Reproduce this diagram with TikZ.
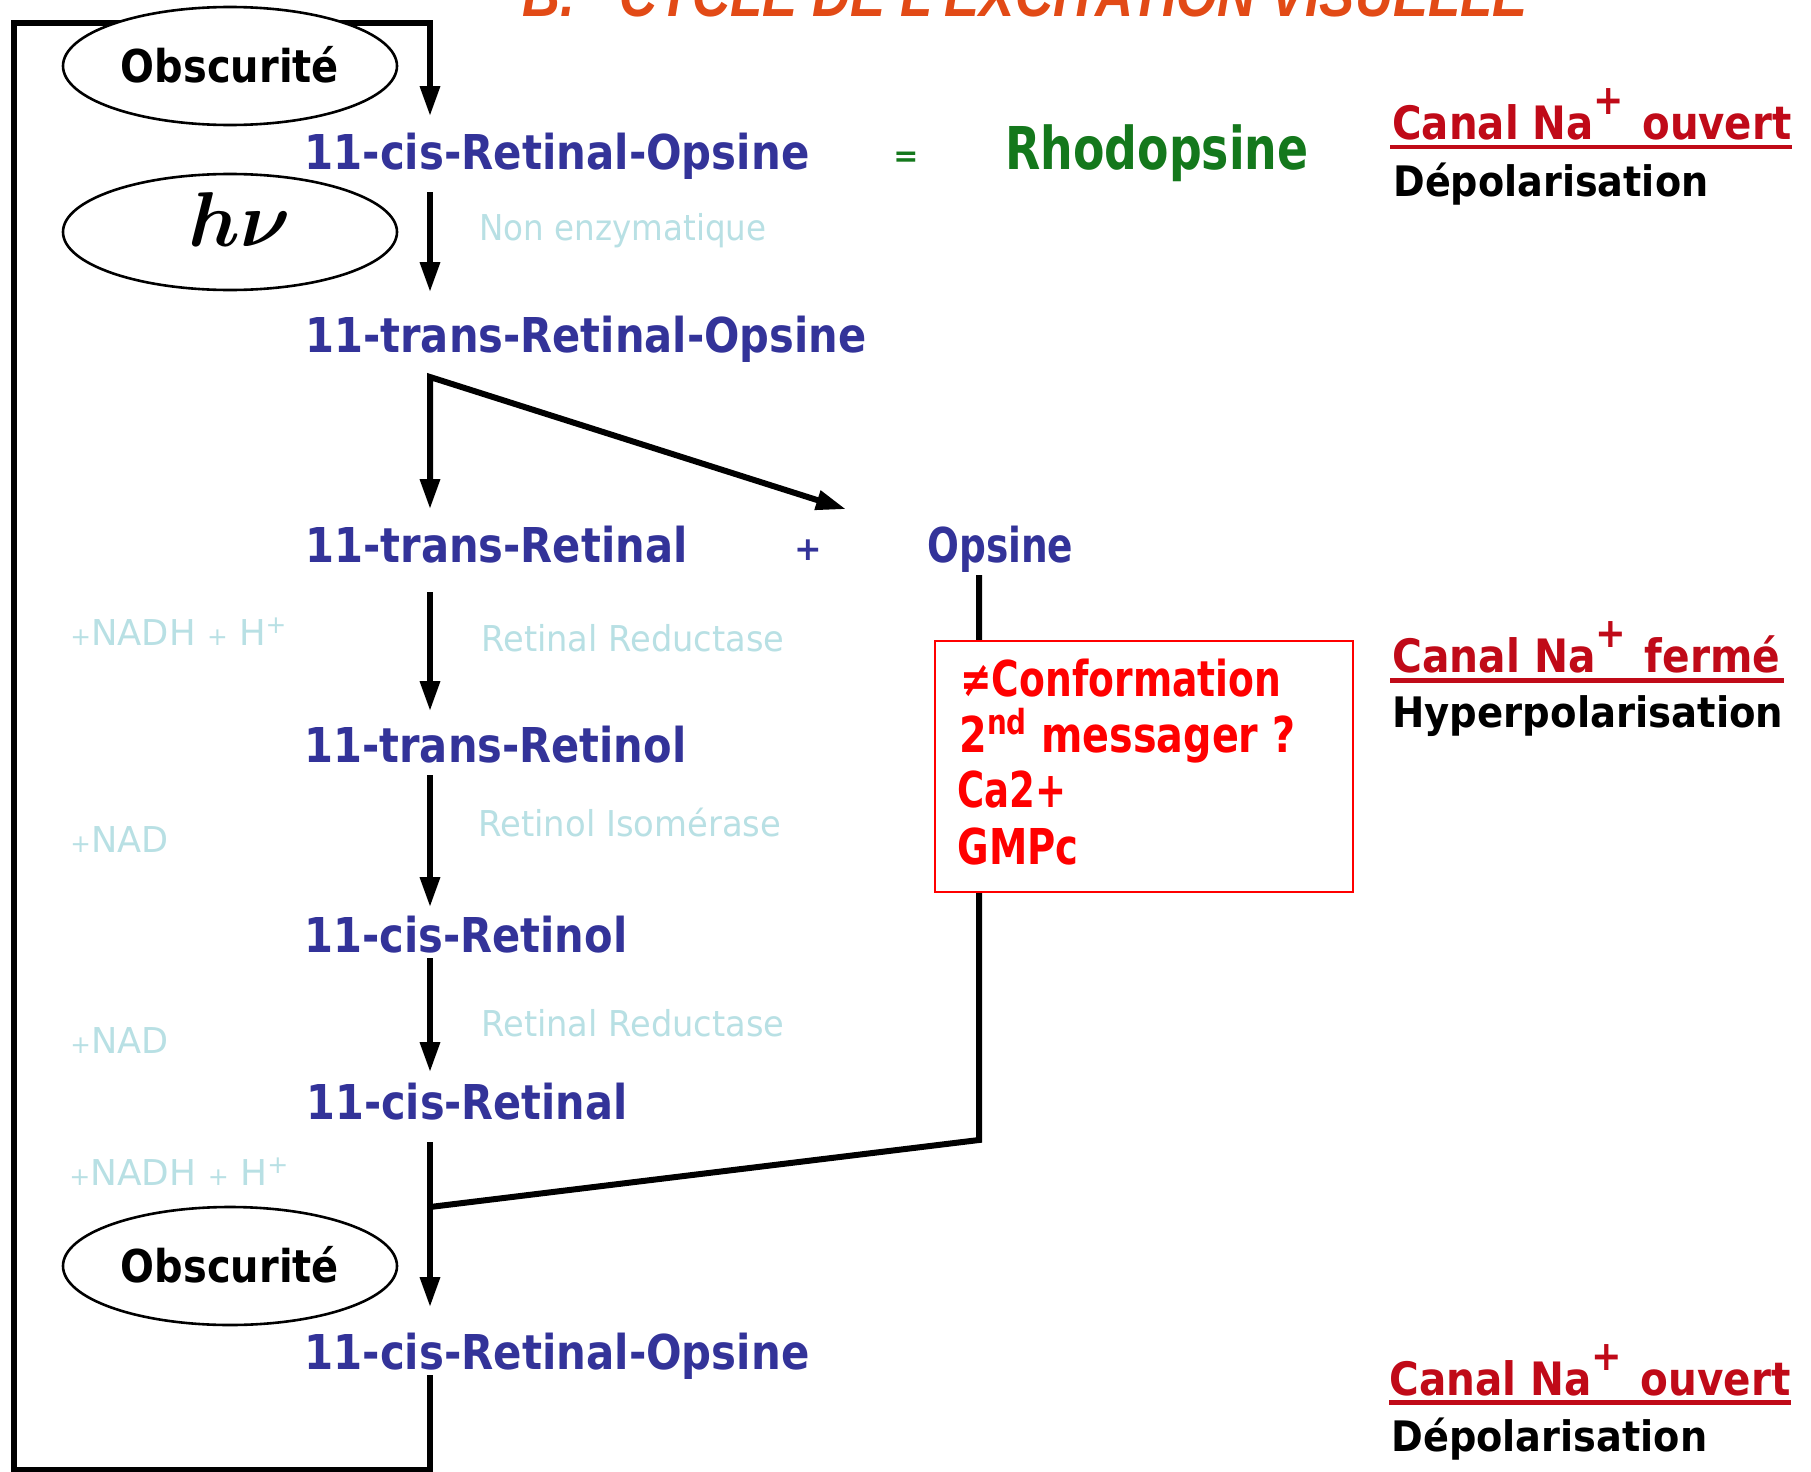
\documentclass[tikz,border=0pt]{standalone}
\usepackage{fontspec}
\setmainfont{DejaVu Sans}
\newfontfamily\titlefont{Liberation Sans}
\usepackage{graphicx}
\usetikzlibrary{arrows.meta,shapes.geometric,calc}

\definecolor{chemblue}{RGB}{51,51,153}
\definecolor{rhogreen}{RGB}{20,120,28}
\definecolor{enzcyan}{RGB}{184,224,228}
\definecolor{canalred}{RGB}{192,10,24}
\definecolor{titleorange}{RGB}{226,74,22}

% one unit of the drawing grid
\newdimen\pxu
\pxu=0.5pt
% set a text to a given width (in grid units), keeping its height
\newcommand{\fitw}[2]{\resizebox{#1\pxu}{\height}{#2}}
\newcommand{\naion}{Na\raisebox{0.55em}{\scalebox{0.9}{+}}\hspace{0.45em}}
\newcommand{\smplus}{\scalebox{0.7}{+}}

\begin{document}
\begin{tikzpicture}[x=0.5pt,y=-0.5pt,
  >={Triangle[length=15pt,width=9.5pt]},
  line/.style={line width=3pt},
  flow/.style={line,->},
  chem/.style={anchor=south west, inner sep=0pt, text height=17.5pt, text depth=0pt,
    text=chemblue, font=\bfseries\fontsize{24pt}{28pt}\selectfont},
  enz/.style={anchor=south west, inner sep=0pt, text height=13pt, text depth=0pt,
    text=enzcyan, font=\fontsize{17.8pt}{21pt}\selectfont},
  bubble/.style={ellipse, draw, line width=1.3pt, fill=white, inner sep=0pt,
    minimum width=167pt, minimum height=59pt,
    font=\bfseries\fontsize{22.6pt}{26pt}\selectfont, text height=16.5pt, text depth=0pt},
  effect/.style={anchor=south west, inner sep=0pt, text height=18pt, text depth=0pt,
    text=red, font=\bfseries\fontsize{24.7pt}{28pt}\selectfont},
  canal/.style={anchor=south west, inner sep=0pt, text height=17pt, text depth=0pt,
    text=canalred, font=\bfseries\fontsize{23pt}{27pt}\selectfont},
  polar/.style={anchor=south west, inner sep=0pt, text height=15.5pt, text depth=0pt,
    text=black, font=\bfseries\fontsize{21pt}{25pt}\selectfont},
  underl/.style={draw=canalred, line width=2.25pt}]

\useasboundingbox (0,0) rectangle (1811,1472);
\fill[white] (0,0) rectangle (1811,1472);

% heading
\node[anchor=base west, inner sep=0pt, text=titleorange,
  font=\titlefont\bfseries\itshape\fontsize{31pt}{34pt}\selectfont] (title) at (522,17)
  {\fitw{1005}{B.\hspace{0.85em}CYCLE DE L'EXCITATION VISUELLE}};

% reaction chain
\node[chem] (cisop) at (304,170) {\fitw{505}{11-cis-Retinal-Opsine}};
\node[anchor=base, inner sep=0pt, text=rhogreen, font=\bfseries\fontsize{15pt}{18pt}\selectfont]
  (eq) at (906,166) {=};
\node[anchor=south west, inner sep=0pt, text height=21.5pt, text depth=0pt, text=rhogreen,
  font=\bfseries\fontsize{29.5pt}{33pt}\selectfont] (rhodo) at (1005,170) {\fitw{303}{Rhodopsine}};
\node[enz] (nonenz) at (479,241) {\fitw{287}{Non enzymatique}};
\node[chem] (transop) at (305,353) {\fitw{561}{11-trans-Retinal-Opsine}};
\node[chem] (transret) at (305,563) {\fitw{382}{11-trans-Retinal}};
\node[inner sep=0pt, text=chemblue, font=\bfseries\fontsize{16.5pt}{20pt}\selectfont]
  (plus) at (808,550) {+};
\node[chem] (opsine) at (927,563) {\fitw{146}{Opsine}};
\node[enz] (nadh1) at (70,646) {\fitw{217}{\smplus NADH \smplus{} H\textsuperscript{+}}};
\node[enz] (red1) at (481,652) {\fitw{303}{Retinal Reductase}};
\node[chem] (transol) at (304,763) {\fitw{382}{11-trans-Retinol}};
\node[enz] (isom) at (478,837) {\fitw{303}{Retinol Isomérase}};
\node[enz] (nad1) at (70,853) {\fitw{98}{\smplus NAD}};
\node[chem] (cisol) at (304,953) {\fitw{323}{11-cis-Retinol}};
\node[enz] (red2) at (481,1037) {\fitw{303}{Retinal Reductase}};
\node[enz] (nad2) at (70,1054) {\fitw{98}{\smplus NAD}};
\node[chem] (cisret) at (306,1120) {\fitw{321}{11-cis-Retinal}};
\node[enz] (nadh2) at (69,1186) {\fitw{220}{\smplus NADH \smplus{} H\textsuperscript{+}}};
\node[chem] (cisopB) at (304,1370) {\fitw{505}{11-cis-Retinal-Opsine}};

% connectors
\coordinate (spine) at (430,0);
\coordinate (loopbl) at (14,1470);
\coordinate (looptl) at (14,23);
\coordinate (joint) at (979,1140);
\coordinate (merge) at (430,1207);

\draw[flow] ($(cisopB.south -| spine)+(0,5)$) |- (loopbl) -- (looptl)
  -| ($(cisop.north -| spine)+(0,-18)$);
\draw[flow, shorten <=11pt, shorten >=12.5pt] (cisop.south -| spine) -- (transop.north -| spine);
\draw[line, <->] ($(transret.north -| spine)+(0,-18)$)
  -- ($(transop.south -| spine)+(0,24)$) coordinate (fork)
  -- ($(opsine.north west)+(-81,-18)$);
\draw[flow, shorten <=14.5pt, shorten >=8pt] (transret.south -| spine) -- (transol.north -| spine);
\draw[flow, shorten <=6pt, shorten >=5pt] (transol.south -| spine) -- (cisol.north -| spine);
\draw[flow, shorten <=2.5pt, shorten >=6pt] (cisol.south -| spine) -- (cisret.north -| spine);
\draw[flow, shorten <=11pt, shorten >=13.5pt] (cisret.south -| spine) -- (cisopB.north -| spine);
\draw[line] ($(opsine.south west)+(52,12)$) -- (joint) -- (merge);

% conditions
\node[bubble] (dark1) at (230,66) {\fitw{218}{Obscurité}};
\node[bubble, minimum height=58pt, text height=27pt, text depth=13pt] (light) at (230,232)
  {\hspace*{10pt}\resizebox{!}{27pt}{\boldmath$h\nu$}};
\node[bubble] (dark2) at (230,1266) {\fitw{218}{Obscurité}};

% effects of the free opsin
\node[draw=red, line width=1.25pt, fill=white, minimum width=209pt, minimum height=125.5pt,
  inner sep=0pt] (effects) at (1144,766.5) {};
\node[effect] (conf) at (960,697) {\fitw{321}{≠Conformation}};
\node[effect] (msg) at (959,753) {\fitw{336}{2\textsuperscript{nd} messager ?}};
\node[effect] (calcium) at (957,808) {\fitw{109}{Ca2+}};
\node[effect] (gmpc) at (957,865) {\fitw{121}{GMPc}};

% membrane state
\node[canal] (na1) at (1392,140) {\fitw{399}{Canal \naion ouvert}};
\draw[underl] ($(na1.south west)+(-2,7)$) -- ($(na1.south east)+(0,7)$);
\node[polar] (pol1) at (1393,197) {\fitw{315}{Dépolarisation}};

\node[canal] (na2) at (1392,673) {\fitw{388}{Canal \naion fermé}};
\draw[underl] ($(na2.south west)+(-2,7.5)$) -- ($(na2.south east)+(3,7.5)$);
\node[polar] (pol2) at (1392,728) {\fitw{391}{Hyperpolarisation}};

\node[canal] (na3) at (1389,1396) {\fitw{401}{Canal \naion ouvert}};
\draw[underl] ($(na3.south west)+(0,6.5)$) -- ($(na3.south east)+(0,6.5)$);
\node[polar] (pol3) at (1391,1452) {\fitw{316}{Dépolarisation}};

\end{tikzpicture}
\end{document}
